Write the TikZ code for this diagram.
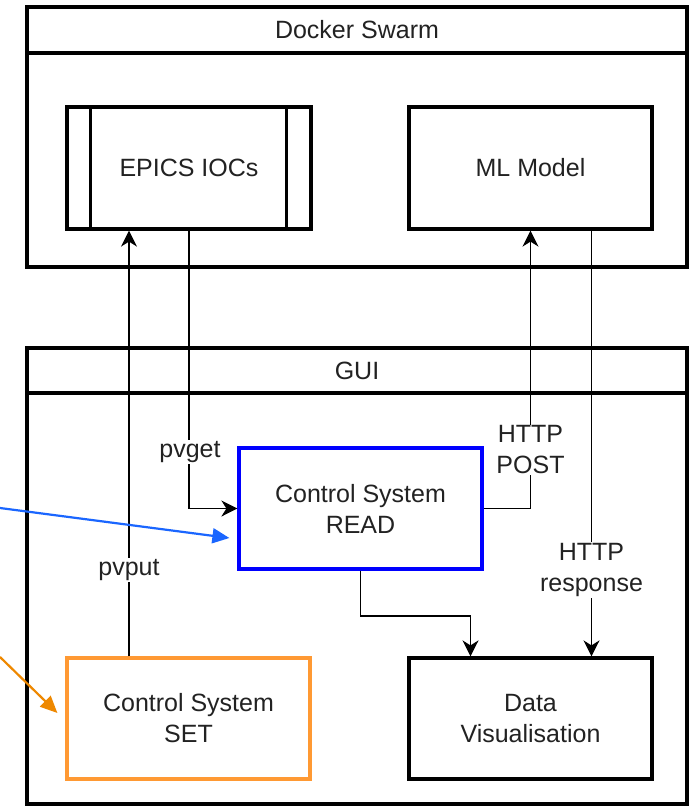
\documentclass[tikz,border=0pt]{standalone}
\usepackage{fontspec}
\setmainfont{Liberation Sans}
\usetikzlibrary{arrows.meta}
\definecolor{txt}{HTML}{222222}
\definecolor{rdblue}{HTML}{0000FF}
\definecolor{arblue}{HTML}{1A66FF}
\definecolor{setor}{HTML}{FF9933}
\definecolor{aror}{HTML}{EE8800}
\begin{document}
\begin{tikzpicture}[x=1pt,y=-1pt,
  every node/.style={font=\fontsize{25}{31}\selectfont, text=txt},
  box/.style={draw=black, line width=3.2pt, fill=white, inner sep=0pt, align=center},
  wire/.style={draw=black, line width=1.9pt, -{Stealth[length=16pt,width=16pt,inset=5pt]}},
  lbl/.style={fill=white, inner sep=1pt, align=center},
  pointer/.style={line width=2.2pt, -{Triangle[length=17pt,width=15pt]}}]
\useasboundingbox (0,0) rectangle (693,807);

% containers
\node[box, minimum width=660pt, minimum height=260pt] (docker) at (357,137) {};
\node[box, minimum width=660pt, minimum height=46pt] (dockerhead) at (357,30) {Docker Swarm};
\node[box, minimum width=660pt, minimum height=456pt] (gui) at (357,576) {};
\node[box, minimum width=660pt, minimum height=45pt] (guihead) at (357,370.5) {GUI};

% blocks
\node[box, minimum width=244pt, minimum height=122pt] (epics) at (189,168) {EPICS IOCs};
\draw[line width=3.2pt] ([xshift=25pt]epics.north west) -- ([xshift=25pt]epics.south west);
\draw[line width=3.2pt] ([xshift=-26pt]epics.north east) -- ([xshift=-26pt]epics.south east);
\node[box, minimum width=243pt, minimum height=122pt] (ml) at (530.5,168) {ML Model};
\node[box, draw=rdblue, minimum width=243pt, minimum height=121pt] (read) at (360.5,508.5) {Control System\\READ};
\node[box, draw=setor, minimum width=243pt, minimum height=121pt] (set) at (188.5,718.5) {Control System\\SET};
\node[box, minimum width=243pt, minimum height=121pt] (vis) at (530.5,718.5) {Data\\Visualisation};

% connectors
\draw[wire] ([xshift=-59.5pt]set.north) -- ([xshift=-60pt]epics.south);
\draw[wire] (epics.south) |- (read.west);
\draw[wire] (read.east) -| (ml.south);
\draw[wire] ([xshift=61pt]ml.south) -- ([xshift=61pt]vis.north);
\draw[wire] (read.south) -- ++(0,45) -| ([xshift=-60pt]vis.north);

% labels
\node[lbl] (pvputlbl) at (129,570) {pvput};
\node[lbl] (pvgetlbl) at (190,452) {pvget};
\node[lbl] (postlbl) at (530.5,450) {HTTP\\POST};
\node[lbl] (resplbl) at (591.5,570) {HTTP\\response};

% external pointers
\coordinate (bstart) at (0,508);
\coordinate (ostart) at (0,657);
\draw[pointer, arblue] (bstart) -- ([xshift=-8pt,yshift=-29.5pt]read.west);
\draw[pointer, aror] (ostart) -- ([xshift=-8pt,yshift=5.5pt]set.west);
\end{tikzpicture}
\end{document}
